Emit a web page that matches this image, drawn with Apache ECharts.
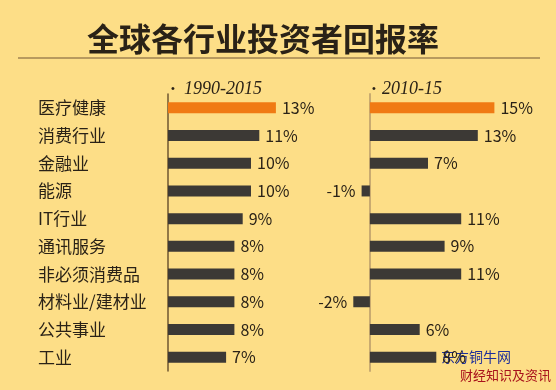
<!DOCTYPE html>
<html><head><meta charset="utf-8">
<script src="https://cdn.jsdelivr.net/npm/echarts@6/dist/echarts.min.js"></script>
<style>html,body{margin:0;padding:0;background:#FDDE87;}#c{width:556px;height:390px;}</style>
</head><body><div id="c"></div>
<script>
var categories = ['医疗健康','消费行业','金融业','能源','IT行业','通讯服务','非必须消费品','材料业/建材业','公共事业','工业'];
var returns1990_2015 = [13, 11, 10, 10, 9, 8, 8, 8, 8, 7];
var returns2010_15 = [15, 13, 7, -1, 11, 9, 11, -2, 6, 8];
var periodLabels = ['1990-2015', '2010-15'];
var titleText = '全球各行业投资者回报率';

var ORANGE = '#F07A14', DARK = '#3C3935', TXT = '#2A2217';
function toData(arr){
  return arr.map(function(v,i){
    return {value:v, itemStyle:{color: i===0?ORANGE:DARK},
      label:{position: v<0?'left':'right'}};
  });
}
var chart = echarts.init(document.getElementById('c'));
var fontCJK = '"Noto Sans CJK SC", "Noto Sans", sans-serif';
chart.setOption({
  backgroundColor:'#FDDE87',
  animation:false,
  title:[
    {text:titleText, left:258, top:18, textAlign:'center',
     textStyle:{fontSize:32, fontWeight:'bold', color:TXT, fontFamily:fontCJK}},
    {text:'•' , left:166, top:78, textStyle:{fontSize:11, color:TXT, fontWeight:'normal'}},
    {text:periodLabels[0], left:179, top:75, textStyle:{fontSize:18, fontStyle:'italic', fontWeight:'normal', color:TXT, fontFamily:'"Liberation Serif", serif'}},
    {text:'•' , left:367, top:78, textStyle:{fontSize:11, color:TXT, fontWeight:'normal'}},
    {text:periodLabels[1], left:377, top:75, textStyle:{fontSize:18, fontStyle:'italic', fontWeight:'normal', color:TXT, fontFamily:'"Liberation Serif", serif'}}
  ],
  graphic:[
    {type:'rect', shape:{x:18,y:57,width:522,height:2}, style:{fill:'#B89A5E'}, silent:true},
    {type:'text', left:441, top:350, style:{text:'东方铜牛网', fill:'#1E2F9A', font:'14px "Noto Sans CJK SC"'}},
    {type:'text', left:460, top:369, style:{text:'财经知识及资讯', fill:'#A8121C', font:'13px "Noto Sans CJK SC"'}}
  ],
  grid:[
    {left:168, top:94, width:166, height:277},
    {left:345, top:94, width:166, height:277}
  ],
  xAxis:[
    {gridIndex:0, type:'value', min:0, max:20, show:false},
    {gridIndex:1, type:'value', min:-3, max:17, show:false}
  ],
  yAxis:[
    {gridIndex:0, type:'category', data:categories, inverse:true,
     axisLine:{show:true, lineStyle:{color:'#6E5630', width:1.5}},
     axisTick:{show:false},
     axisLabel:{align:'left', margin:130, fontSize:17, color:TXT, fontFamily:fontCJK}},
    {gridIndex:1, type:'category', data:categories, inverse:true,
     axisLine:{show:true, onZero:true, lineStyle:{color:'#C9AB70', width:2}},
     axisTick:{show:false}, axisLabel:{show:false}}
  ],
  series:[
    {type:'bar', xAxisIndex:0, yAxisIndex:0, data:toData(returns1990_2015), barWidth:11,
     label:{show:true, formatter:'{c}%', distance:6, fontSize:16, color:TXT, fontFamily:fontCJK}},
    {type:'bar', xAxisIndex:1, yAxisIndex:1, data:toData(returns2010_15), barWidth:11,
     label:{show:true, formatter:'{c}%', distance:6, fontSize:16, color:TXT, fontFamily:fontCJK}}
  ]
});
</script></body></html>
